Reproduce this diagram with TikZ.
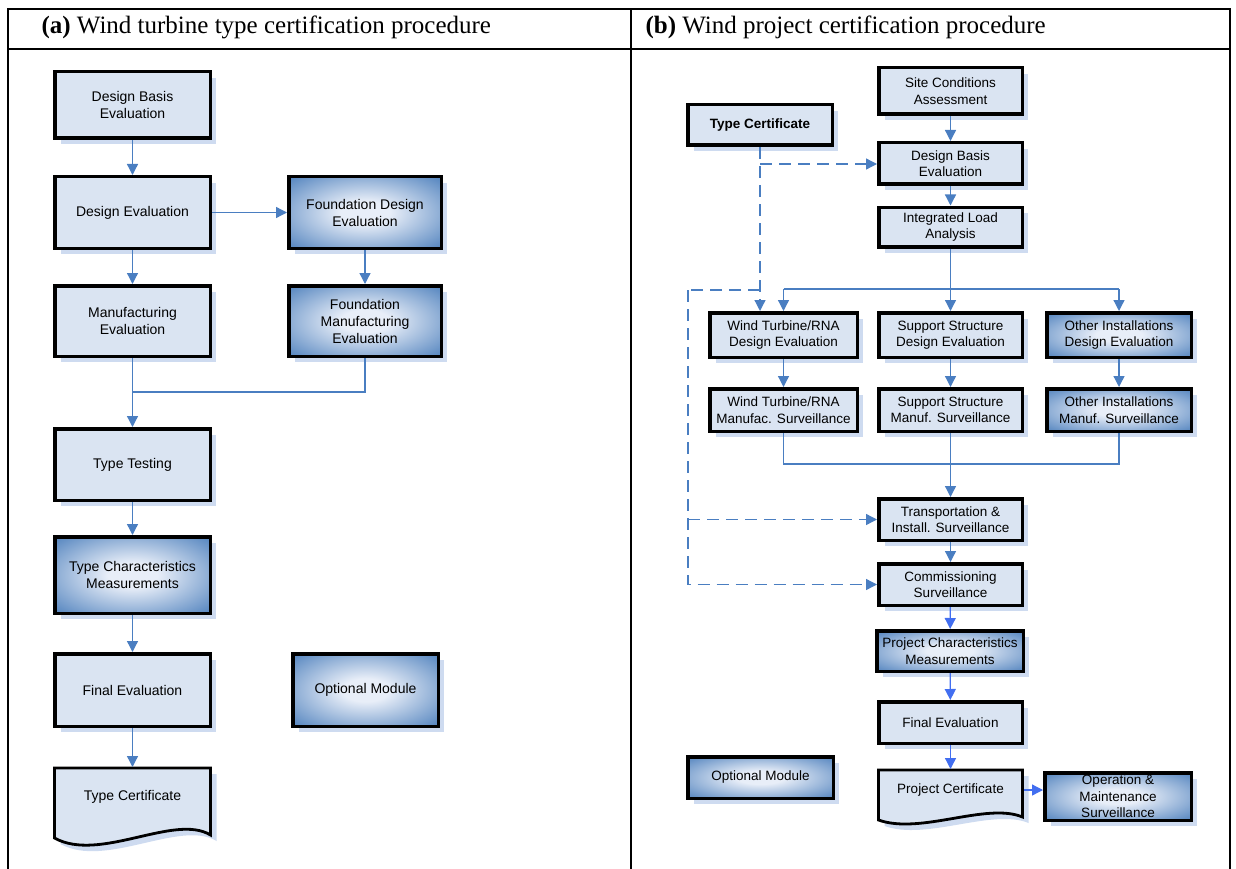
\documentclass[tikz,border=0pt]{standalone}
\usepackage{fontspec}
\setmainfont{Liberation Serif}
\newfontfamily\boxfont{Liberation Sans}
\usetikzlibrary{arrows.meta,shadows}

\definecolor{boxfill}{RGB}{218,228,242}
\definecolor{shadowblue}{RGB}{206,219,240}
\definecolor{optblue}{RGB}{79,129,189}
\definecolor{optlight}{RGB}{232,238,248}
\definecolor{flowblue}{RGB}{74,126,193}
\definecolor{flowbright}{RGB}{66,110,240}

\pgfdeclareradialshading{optglow}{\pgfpoint{0bp}{0bp}}{color(0bp)=(optlight); color(8bp)=(optlight); color(36bp)=(optblue); color(50bp)=(optblue)}

\begin{document}
\begin{tikzpicture}[x=1pt, y=-1pt,
    boxshadow/.style={drop shadow={shadow xshift=6pt, shadow yshift=-6pt, fill=shadowblue, opacity=1}},
    procbox/.style={draw=black, line width=3.5pt, fill=boxfill, boxshadow, align=center, inner sep=2pt},
    optbox/.style={draw=black, line width=3.5pt, shading=optglow, boxshadow, align=center, inner sep=2pt},
    lsize/.style={font=\boxfont\fontsize{14}{17}\selectfont, minimum width=155.5pt, minimum height=71.5pt},
    rsize/.style={font=\boxfont\fontsize{13.5}{16.5}\selectfont, minimum width=143.5pt, minimum height=41.5pt},
    lbox/.style={procbox, lsize},
    lopt/.style={optbox, lsize},
    rbox/.style={procbox, rsize},
    ropt/.style={optbox, rsize},
    docshape/.style={draw=black, line width=2.8pt, fill=boxfill, boxshadow},
    doctext/.style={align=center, inner sep=0pt},
    link/.style={draw=flowblue, line width=1.3pt},
    flow/.style={link, -{Triangle[length=11pt,width=11pt]}},
    brightflow/.style={flow, draw=flowbright},
    dlink/.style={link, dash pattern=on 12pt off 7pt},
    dflow/.style={flow, dash pattern=on 12pt off 7pt},
    frame/.style={line width=1.4pt},
    head/.style={anchor=base west, font=\fontsize{25}{30}\selectfont}]
    \useasboundingbox (0,0) rectangle (1236,869);

    % --- TABLE ---
    \draw[frame] (8,869) -- (8,9) -- (1230,9) -- (1230,869);
    \draw[frame] (8,49) -- (1230,49);
    \draw[frame] (631,9) -- (631,869);
    \node[head] (heada) at (38,34) {\textbf{(a)} Wind turbine type certification procedure};
    \node[head] (headb) at (642,34) {\textbf{(b)} Wind project certification procedure};

    % --- (a) TYPE CERTIFICATION ---
    \node[lbox, minimum height=66.5pt] (dbe) at (132.5,105) {Design Basis\\Evaluation};
    \node[lbox] (de) at (132.5,212.5) {Design Evaluation};
    \node[lopt, minimum width=152.5pt] (fde) at (365,212.5) {Foundation Design\\Evaluation};
    \node[lbox, minimum height=70.5pt] (me) at (132.5,321) {Manufacturing\\Evaluation};
    \node[lopt, minimum width=152.5pt, minimum height=70.5pt] (fme) at (365,321) {Foundation\\Manufacturing\\Evaluation};
    \node[lbox] (tt) at (132.5,464.5) {Type Testing};
    \node[lopt, minimum height=76.5pt] (tcm) at (132.5,575) {Type Characteristics\\Measurements};
    \node[lbox, minimum height=72.5pt] (fe) at (132.5,690) {Final Evaluation};
    \node[lopt, minimum width=145.5pt, minimum height=72.5pt] (opt) at (365.5,690) {Optional Module};

    % document shape
    \coordinate (tcpos) at (132.5,797);
    \begin{scope}[shift={(tcpos)}]
        \draw[docshape] (-78,-29) -- (78,-29) -- (78,38) .. controls (42,16) and (-33,66) .. (-78,41) -- cycle;
    \end{scope}
    \node[doctext, font=\boxfont\fontsize{14}{17}\selectfont] (tcert) at (tcpos) {Type Certificate};

    \draw[flow] (dbe) -- (de);
    \draw[flow] (de) -- (fde);
    \draw[flow] (de) -- (me);
    \draw[flow] (fde) -- (fme);
    \coordinate (lmerge) at (132.5,392);
    \draw[link] (fme.south) |- (lmerge);
    \draw[flow] (me) -- (tt);
    \draw[flow] (tt) -- (tcm);
    \draw[flow] (tcm) -- (fe);
    \draw[flow] (fe.south) -- (tcert.north |- 0,767);

    % --- (b) PROJECT CERTIFICATION ---
    \node[rbox, minimum height=46.5pt] (sca) at (950.5,91) {Site Conditions\\Assessment};
    \node[rbox, minimum width=144.5pt, minimum height=40.5pt, font=\boxfont\bfseries\fontsize{13.5}{16.5}\selectfont] (tcbox) at (760,125) {Type Certificate};
    \node[rbox] (dbe2) at (950.5,163.5) {Design Basis\\Evaluation};
    \node[rbox, minimum height=39.5pt] (ila) at (950.5,227) {Integrated Load\\Analysis};
    \node[rbox, minimum width=147.5pt, minimum height=44.5pt] (wtde) at (783.5,335) {Wind Turbine/RNA\\Design Evaluation};
    \node[rbox, minimum height=44.5pt] (ssde) at (950.5,335) {Support Structure\\Design Evaluation};
    \node[ropt, minimum width=144.5pt, minimum height=44.5pt] (oide) at (1119,335) {Other Installations\\Design Evaluation};
    \node[rbox, minimum width=147.5pt, minimum height=42.5pt] (wtms) at (783.5,410) {Wind Turbine/RNA\\Manufac. Surveillance};
    \node[rbox, minimum height=42.5pt] (ssms) at (950.5,410) {Support Structure\\Manuf. Surveillance};
    \node[ropt, minimum width=144.5pt, minimum height=42.5pt] (oims) at (1119,410) {Other Installations\\Manuf. Surveillance};
    \node[rbox] (tis) at (950.5,519.5) {Transportation \&\\Install. Surveillance};
    \node[rbox] (cms) at (950.5,584.5) {Commissioning\\Surveillance};
    \node[ropt, minimum width=146.5pt, minimum height=40.5pt] (pcm) at (950,651) {Project Characteristics\\Measurements};
    \node[rbox] (fe2) at (950.5,722.5) {Final Evaluation};
    \node[ropt, minimum width=145.5pt] (opt2) at (760.5,777.5) {Optional Module};
    \node[ropt, minimum width=146.5pt, minimum height=47.5pt] (om) at (1118,796.5) {Operation \&\\Maintenance\\Surveillance};

    % document shape
    \coordinate (pcpos) at (950.5,790);
    \begin{scope}[shift={(pcpos)}]
        \draw[docshape] (-72,-20) -- (72,-20) -- (72,27) .. controls (36,12) and (-30,45) .. (-72,30) -- cycle;
    \end{scope}
    \node[doctext, font=\boxfont\fontsize{13.5}{16.5}\selectfont] (pcert) at (pcpos) {Project Certificate};

    \draw[flow] (sca) -- (dbe2);
    \draw[flow] (dbe2) -- (ila);
    \draw[flow] (ila) -- (ssde);
    \coordinate (busl) at (783.5,289);
    \coordinate (busr) at (1119,289);
    \draw[link] (busl) -- (busr);
    \draw[flow] (busl) -- (wtde);
    \draw[flow] (busr) -- (oide);
    \draw[flow] (wtde) -- (wtms);
    \draw[flow] (ssde) -- (ssms);
    \draw[flow] (oide) -- (oims);
    \coordinate (mergel) at (783.5,464);
    \coordinate (merger) at (1119,464);
    \draw[link] (wtms.south) -- (mergel) -- (merger) -- (oims.south);
    \draw[flow] (ssms) -- (tis);
    \draw[flow] (tis) -- (cms);
    \draw[brightflow] (cms) -- (pcm);
    \draw[brightflow] (pcm) -- (fe2);
    \draw[brightflow] (fe2.south) -- (950.5,769);
    \draw[brightflow] (pcert.east -| 1024,0) -- (om.west |- pcert.east);

    % type certificate links (dashed)
    \draw[dflow] (tcbox.south) -- (tcbox.south |- wtde.north);
    \coordinate (dsplit) at (760,164);
    \draw[dflow] (dsplit) -- (dsplit -| dbe2.west);
    \coordinate (dtop) at (760,290);
    \coordinate (dcorner) at (688,290);
    \draw[dlink] (dtop) -- (dcorner);
    \draw[dflow] (dcorner) |- (cms);
    \draw[dflow] (dcorner |- tis) -- (tis);
\end{tikzpicture}
\end{document}
